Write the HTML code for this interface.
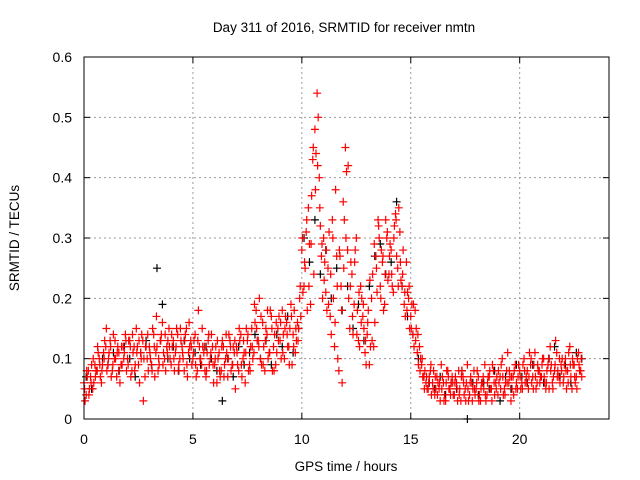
<!DOCTYPE html>
<html><head><meta charset="utf-8"><style>
body{margin:0;background:#fff;}
svg{display:block;font-family:"Liberation Sans",sans-serif;}
</style></head><body>
<svg id="chart" width="640" height="480">
<text x="344" y="32" text-anchor="middle" font-size="13.5" fill="#000">Day 311 of 2016, SRMTID for receiver nmtn</text>
<text x="346" y="471" text-anchor="middle" font-size="13.5" fill="#000">GPS time / hours</text>
<text transform="translate(19,238) rotate(-90)" text-anchor="middle" font-size="13.5" fill="#000">SRMTID / TECUs</text>
<g id="grid"></g>
<g id="ticks"></g>
<g id="black"></g>
<g id="red"></g>
<rect x="84" y="57" width="525" height="362" fill="none" stroke="#000" stroke-width="1"/>
</svg>
<script>
const xTicks=[0,5,10,15,20];
const yTicks=[0,0.1,0.2,0.3,0.4,0.5,0.6];
const yTickLabels=["0","0.1","0.2","0.3","0.4","0.5","0.6"];
const redA=[0.06,0.04,0.08,0.07,0.05,0.09,0.08,0.10,0.06,0.11,
0.12,0.09,0.13,0.08,0.10,0.07,0.11,0.09,0.12,0.14,
0.10,0.13,0.08,0.12,0.15,0.09,0.11,0.13,0.07,0.10,
0.12,0.09,0.14,0.11,0.08,0.13,0.16,0.10,0.12,0.15,
0.09,0.13,0.11,0.14,0.10,0.12,0.08,0.15,0.11,0.13,
0.10,0.14,0.08,0.12,0.09,0.11,0.07,0.13,0.10,0.12,
0.09,0.06,0.11,0.08,0.12,0.10,0.07,0.13,0.09,0.11,
0.12,0.08,0.14,0.10,0.06,0.13,0.09,0.15,0.11,0.18,
0.13,0.10,0.16,0.08,0.14,0.11,0.17,0.12,0.09,0.15,
0.13,0.18,0.10,0.16,0.12,0.19,0.14,0.11,0.16,0.20,
0.28,0.22,0.31,0.35,0.19,0.43,0.48,0.54,0.40,0.27,
0.30,0.21,0.25,0.17,0.33,0.12,0.27,0.08,0.22,0.36,
0.45,0.28,0.15,0.24,0.19,0.30,0.13,0.22,0.17,0.11,
0.14,0.09,0.20,0.12,0.27,0.33,0.22,0.26,0.19,0.30,
0.24,0.28,0.21,0.34,0.25,0.31,0.22,0.19,0.26,0.20,
0.17,0.14,0.18,0.11,0.12,0.09,0.07,0.06,0.05,0.08,
0.06,0.04,0.07,0.05,0.09,0.06,0.03,0.08,0.05,0.07,
0.04,0.06,0.08,0.03,0.07,0.05,0.09,0.04,0.06,0.08,
0.05,0.07,0.03,0.06,0.09,0.04,0.07,0.05,0.08,0.06,
0.04,0.07,0.10,0.05,0.08,0.06,0.03,0.07,0.09,0.05,
0.08,0.06,0.10,0.07,0.05,0.09,0.07,0.11,0.06,0.08,
0.07,0.10,0.05,0.09,0.12,0.06,0.08,0.11,0.07,0.09,
0.06,0.10,0.08,0.12,0.05,0.09,0.07,0.11,0.08];
const redB=[0.03,0.07,0.05,0.09,0.06,0.08,0.11,0.07,0.09,0.13,
0.08,0.11,0.07,0.14,0.10,0.12,0.06,0.09,0.11,0.08,
0.13,0.07,0.11,0.09,0.12,0.06,0.14,0.10,0.12,0.08,
0.10,0.15,0.07,0.12,0.09,0.14,0.11,0.08,0.13,0.10,
0.12,0.08,0.15,0.09,0.13,0.10,0.14,0.07,0.12,0.09,
0.13,0.07,0.18,0.10,0.12,0.08,0.11,0.09,0.14,0.06,
0.12,0.10,0.07,0.13,0.09,0.11,0.14,0.08,0.12,0.05,
0.09,0.13,0.07,0.11,0.15,0.08,0.12,0.10,0.16,0.13,
0.20,0.09,0.12,0.15,0.10,0.18,0.08,0.14,0.11,0.17,
0.10,0.14,0.17,0.12,0.15,0.09,0.18,0.13,0.15,0.17,
0.21,0.25,0.18,0.29,0.37,0.24,0.44,0.50,0.32,0.20,
0.26,0.18,0.31,0.14,0.20,0.38,0.10,0.27,0.06,0.33,
0.41,0.20,0.26,0.14,0.28,0.18,0.12,0.20,0.15,0.09,
0.18,0.12,0.24,0.16,0.21,0.30,0.28,0.18,0.33,0.23,
0.29,0.22,0.32,0.27,0.35,0.23,0.28,0.17,0.21,0.15,
0.19,0.12,0.15,0.09,0.10,0.07,0.08,0.05,0.07,0.04,
0.08,0.05,0.06,0.03,0.07,0.04,0.08,0.05,0.06,0.04,
0.07,0.03,0.05,0.08,0.04,0.06,0.03,0.07,0.05,0.04,
0.08,0.04,0.06,0.05,0.03,0.07,0.05,0.09,0.04,0.07,
0.06,0.09,0.04,0.06,0.11,0.07,0.05,0.08,0.06,0.09,
0.05,0.09,0.06,0.08,0.11,0.06,0.09,0.05,0.08,0.07,
0.10,0.06,0.08,0.05,0.09,0.07,0.13,0.08,0.06,0.10,
0.09,0.05,0.11,0.07,0.09,0.06,0.10,0.08,0.07];
const redC=[0.05,0.08,0.04,0.06,0.10,0.07,0.12,0.09,0.08,0.10,
0.15,0.10,0.12,0.09,0.13,0.11,0.08,0.12,0.10,0.13,
0.09,0.12,0.14,0.08,0.11,0.13,0.10,0.03,0.12,0.14,
0.11,0.08,0.12,0.17,0.10,0.13,0.09,0.14,0.11,0.12,
0.14,0.10,0.12,0.08,0.15,0.11,0.13,0.09,0.16,0.12,
0.11,0.09,0.13,0.10,0.15,0.12,0.08,0.14,0.11,0.09,
0.10,0.13,0.08,0.12,0.07,0.14,0.10,0.12,0.09,0.13,
0.11,0.15,0.09,0.13,0.11,0.14,0.08,0.12,0.19,0.15,
0.12,0.17,0.09,0.13,0.18,0.11,0.15,0.08,0.16,0.13,
0.16,0.11,0.15,0.14,0.09,0.17,0.12,0.15,0.13,0.22,
0.30,0.26,0.33,0.22,0.29,0.45,0.38,0.42,0.35,0.29,
0.23,0.28,0.19,0.24,0.30,0.16,0.22,0.28,0.18,0.25,
0.30,0.42,0.22,0.17,0.26,0.14,0.21,0.16,0.19,0.13,
0.16,0.23,0.13,0.29,0.25,0.32,0.20,0.27,0.24,0.31,
0.27,0.24,0.30,0.33,0.22,0.26,0.24,0.21,0.18,0.22,
0.15,0.19,0.13,0.14,0.08,0.10,0.05,0.07,0.06,0.09,
0.05,0.07,0.04,0.06,0.05,0.03,0.06,0.07,0.04,0.06,
0.06,0.05,0.04,0.07,0.06,0.03,0.05,0.06,0.03,0.05,
0.06,0.03,0.05,0.07,0.04,0.06,0.08,0.03,0.06,0.05,
0.08,0.05,0.07,0.04,0.06,0.08,0.07,0.04,0.05,0.07,
0.07,0.05,0.08,0.06,0.07,0.10,0.05,0.07,0.09,0.06,
0.09,0.07,0.06,0.10,0.08,0.05,0.09,0.07,0.10,0.08,
0.07,0.08,0.06,0.09,0.10,0.07,0.05,0.09,0.10];
const black=[0.07,0.05,0.08,0.10,0.09,0.11,0.08,0.12,
0.10,0.07,0.11,0.13,0.09,0.25,0.19,0.10,
0.12,0.08,0.13,0.10,0.11,0.09,0.12,0.10,
0.08,0.03,0.10,0.07,0.12,0.09,0.11,0.14,
0.10,0.13,0.09,0.14,0.12,0.17,0.11,0.15,
0.30,0.26,0.33,0.24,0.28,0.20,0.25,0.18,
0.22,0.15,0.19,0.13,0.22,0.27,0.29,0.24,
0.26,0.36,0.22,0.17,0.14,0.10,0.07,0.06,
0.05,0.07,0.04,0.06,0.05,0.08,0.00,0.06,
0.04,0.06,0.05,0.08,0.03,0.07,0.05,0.09,
0.07,0.06,0.09,0.08,0.06,0.10,0.12,0.07,
0.09,0.06,0.11,0.10];
const NS="http://www.w3.org/2000/svg";
const X0=84,X1=609,Y0=419,Y1=57,XMAX=24.1,YMAX=0.6;
function sx(t){return X0+t/XMAX*(X1-X0);}
function sy(v){return Y0-v/YMAX*(Y0-Y1);}
function mk(tag,attrs,parent){const e=document.createElementNS(NS,tag);for(const k in attrs)e.setAttribute(k,attrs[k]);parent.appendChild(e);return e;}
const grid=document.getElementById('grid'),ticks=document.getElementById('ticks');
yTicks.forEach((v,i)=>{
  const y=sy(v);
  if(i>0&&i<yTicks.length-1){const g=mk('line',{x1:X0,x2:X1,y1:y,y2:y,stroke:'#999','stroke-dasharray':'2,3'},grid);
  
  }
  mk('line',{x1:X0,x2:X0+6,y1:y,y2:y,stroke:'#000'},ticks);
  mk('line',{x1:X1,x2:X1-6,y1:y,y2:y,stroke:'#000'},ticks);
  const t=mk('text',{x:X0-12,y:y+5,'text-anchor':'end','font-size':14},ticks);
  t.textContent=yTickLabels[i];
  
  
});
xTicks.forEach(v=>{
  const x=sx(v);
  if(v>0){const g=mk('line',{x1:x,x2:x,y1:Y0,y2:Y1,stroke:'#999','stroke-dasharray':'2,3'},grid);
  
  }
  mk('line',{x1:x,x2:x,y1:Y0,y2:Y0-6,stroke:'#000'},ticks);
  mk('line',{x1:x,x2:x,y1:Y1,y2:Y1+6,stroke:'#000'},ticks);
  const t=mk('text',{x:x,y:Y0+25,'text-anchor':'middle','font-size':14},ticks);
  t.textContent=String(v);
  
  
});
function plot(arr,step,off,color,gid,name){
  const g=document.getElementById(gid);let d='';
  arr.forEach((v,i)=>{const x=sx(i*step+off),y=sy(v);d+=`M${x-4},${y}h8M${x},${y-4}v8`;});
  const p=mk('path',{d:d,stroke:color,'stroke-width':1.2,fill:'none'},g);
  
  
}
plot(black,0.25,0.1,'#000','black','black-points');
plot(redA,0.1,0,'#f00','red','red-points-a');
plot(redB,0.1,0.05,'#f00','red','red-points-b');
plot(redC,0.1,0.025,'#f00','red','red-points-c');
</script>
</body></html>
